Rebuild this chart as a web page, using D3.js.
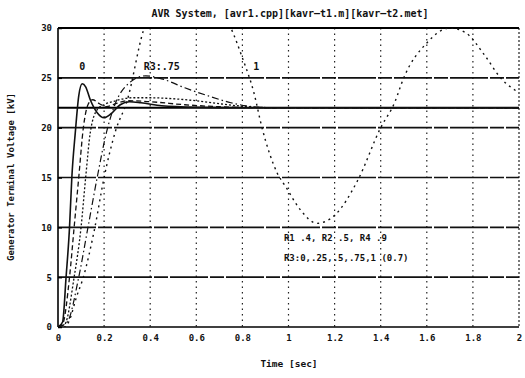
<!DOCTYPE html>
<html>
<head>
<meta charset="utf-8">
<script src="https://cdn.jsdelivr.net/npm/d3@7"></script>
<style>
  body { margin: 0; background: #fff; }
  text { font-family: "DejaVu Sans Mono", "Liberation Mono", monospace; font-weight: bold; fill: #111; }
</style>
</head>
<body>
<div id="graphArea"></div>
<script>
// time ticks / voltage ticks
var xTicks = [0, 0.2, 0.4, 0.6, 0.8, 1, 1.2, 1.4, 1.6, 1.8, 2];
var xTickLabels = ["0", "0.2", "0.4", "0.6", "0.8", "1", "1.2", "1.4", "1.6", "1.8", "2"];
var yTicks = [0, 5, 10, 15, 20, 25, 30];
var refVoltage = 22;

// R3 = 0
var t0 = [0, 0.02, 0.035, 0.05, 0.06, 0.075, 0.09, 0.105, 0.12, 0.14, 0.17, 0.2, 0.23, 0.27, 0.31, 0.36, 0.45, 0.6, 0.8, 2];
var v0 = [0, 0.5, 5, 10, 15, 19.5, 23.2, 24.4, 24.1, 22.8, 21.5, 21, 21.4, 22.3, 22.6, 22.5, 22.2, 22.05, 22, 22];
// R3 = .25
var t25 = [0, 0.02, 0.05, 0.07, 0.09, 0.11, 0.13, 0.15, 0.18, 0.21, 0.25, 0.3, 0.4, 0.55, 0.7, 0.9, 2];
var v25 = [0, 0.3, 5, 10, 15, 20, 22.3, 22.8, 22.4, 22.1, 22.4, 22.7, 22.6, 22.3, 22.1, 22, 22];
// R3 = .5
var t50 = [0, 0.03, 0.07, 0.1, 0.12, 0.14, 0.17, 0.2, 0.25, 0.32, 0.4, 0.5, 0.6, 0.7, 0.8, 0.9, 2];
var v50 = [0, 0.3, 5, 10, 15, 19.5, 21.8, 22.3, 22.7, 23, 23, 22.9, 22.7, 22.4, 22.15, 22.02, 22];
// R3 = .75
var t75 = [0, 0.04, 0.09, 0.13, 0.17, 0.21, 0.25, 0.3, 0.38, 0.45, 0.55, 0.65, 0.75, 0.85, 0.95, 2];
var v75 = [0, 0.5, 5, 10, 15, 19.5, 22.5, 24.3, 25.2, 24.9, 24, 23.2, 22.5, 22.1, 22, 22];
// R3 = 1
var t100 = [0, 0.03, 0.05, 0.08, 0.11, 0.16, 0.2, 0.25, 0.3, 0.37, 0.45, 0.55, 0.65, 0.75, 0.8, 0.85, 0.885, 0.95, 0.99, 1.05, 1.124, 1.2, 1.3, 1.4, 1.46, 1.5, 1.6, 1.7, 1.77, 1.85, 1.92, 2];
var v100 = [0, 0, 0.7, 3, 5, 10, 15, 19.7, 22.7, 29.7, 33, 34, 33, 30, 27, 23.5, 20, 15.5, 14, 11.8, 10.4, 11.2, 14.7, 20, 22.5, 25, 28.5, 30, 29.5, 27.3, 25, 23.5];

var series = [
  { t: t0, v: v0, dash: null, w: 1.6 },
  { t: t25, v: v25, dash: "5,3", w: 1.3 },
  { t: t50, v: v50, dash: "2,2", w: 1.3 },
  { t: t75, v: v75, dash: "7,3,1.5,3", w: 1.2 },
  { t: t100, v: v100, dash: "2,4", w: 1.4 }
];

var margin = { top: 28, left: 58, bottom: 51, right: 6 };
var width = 525 - margin.left - margin.right;
var height = 378 - margin.top - margin.bottom;

var svg = d3.select("#graphArea").append("svg")
  .attr("width", 525)
  .attr("height", 378);
var g = svg.append("g")
  .attr("transform", "translate(" + margin.left + "," + margin.top + ")");

var x = d3.scaleLinear().domain([0, 2]).range([0, width]);
var y = d3.scaleLinear().domain([0, 30]).range([height, 0]);

g.append("clipPath").attr("id", "clip")
  .append("rect").attr("width", width).attr("height", height);

// vertical grid (dotted)
g.selectAll(".vgrid")
  .data(xTicks.slice(1))
  .enter().append("line")
  .attr("x1", d => x(d)).attr("x2", d => x(d))
  .attr("y1", 0).attr("y2", height)
  .attr("stroke", "#222")
  .attr("stroke-width", 1.2)
  .attr("stroke-dasharray", d => d === 2 ? "2,2" : "1.5,4");

// horizontal grid (dark, broken)
g.selectAll(".hgrid")
  .data(yTicks.slice(1, -1))
  .enter().append("line")
  .attr("x1", 0).attr("x2", width)
  .attr("y1", d => y(d)).attr("y2", d => y(d))
  .attr("stroke", "#111")
  .attr("stroke-width", 1.6)
  .attr("stroke-dasharray", "38,2,14,2");

// reference voltage
g.append("line")
  .attr("x1", 0).attr("x2", width)
  .attr("y1", y(refVoltage)).attr("y2", y(refVoltage))
  .attr("stroke", "#000")
  .attr("stroke-width", 2);

// frame
g.append("line").attr("x1", 0).attr("x2", width).attr("y1", 0).attr("y2", 0)
  .attr("stroke", "#000").attr("stroke-width", 2);
g.append("line").attr("x1", 0).attr("x2", width).attr("y1", height).attr("y2", height)
  .attr("stroke", "#000").attr("stroke-width", 1.6);
g.append("line").attr("x1", 0).attr("x2", 0).attr("y1", 0).attr("y2", height)
  .attr("stroke", "#000").attr("stroke-width", 1.6);

// curves
var line = d3.line()
  .x(d => x(d[0]))
  .y(d => y(d[1]))
  .curve(d3.curveMonotoneX);

g.append("g").attr("clip-path", "url(#clip)")
  .selectAll("path")
  .data(series)
  .enter().append("path")
  .attr("d", s => line(d3.zip(s.t, s.v)))
  .attr("fill", "none")
  .attr("stroke", "#111")
  .attr("stroke-width", s => s.w)
  .attr("stroke-dasharray", s => s.dash);

// axes
var xAxis = d3.axisBottom(x).tickValues(xTicks)
  .tickFormat((d, i) => xTickLabels[i]).tickSize(0).tickPadding(8);
g.append("g").attr("transform", "translate(0," + height + ")").call(xAxis)
  .call(a => a.select(".domain").remove())
  .selectAll("text").style("font-size", "9px");

var yAxis = d3.axisLeft(y).tickValues(yTicks).tickSize(-4).tickPadding(6);
g.append("g").call(yAxis)
  .call(a => a.select(".domain").remove())
  .call(a => a.selectAll("line").attr("stroke", "#000").attr("stroke-width", 1.5))
  .selectAll("text").style("font-size", "9px");

// labels
svg.append("text").attr("x", 290).attr("y", 17).attr("text-anchor", "middle")
  .style("font-size", "10px").text("AVR System, [avr1.cpp][kavr\u2014t1.m][kavr\u2014t2.met]");
svg.append("text").attr("x", 289).attr("y", 367).attr("text-anchor", "middle")
  .style("font-size", "9.5px").text("Time [sec]");
svg.append("text").attr("transform", "translate(14,177) rotate(-90)").attr("text-anchor", "middle")
  .style("font-size", "9px").text("Generator Terminal Voltage [kV]");

g.append("text").attr("x", x(0.105)).attr("y", y(25.8)).attr("text-anchor", "middle")
  .style("font-size", "10px").text("0");
g.append("text").attr("x", x(0.45)).attr("y", y(25.8)).attr("text-anchor", "middle")
  .style("font-size", "10px").text("R3:.75");
g.append("text").attr("x", x(0.86)).attr("y", y(25.8)).attr("text-anchor", "middle")
  .style("font-size", "10px").text("1");
g.append("text").attr("x", x(0.98)).attr("y", y(8.6)).style("font-size", "9px")
  .text("R1 .4, R2 .5, R4 .9");
g.append("text").attr("x", x(0.98)).attr("y", y(6.6)).style("font-size", "9px")
  .text("R3:0,.25,.5,.75,1 (0.7)");
</script>
</body>
</html>
